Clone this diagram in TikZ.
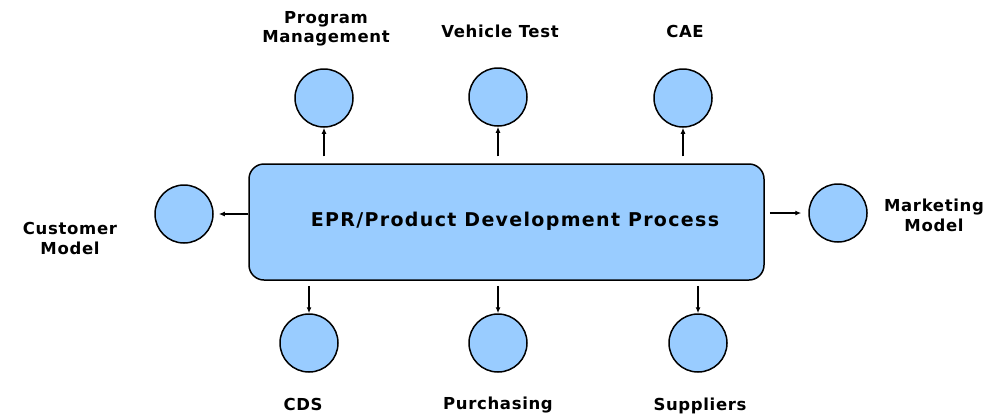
\documentclass[tikz,border=0pt]{standalone}
\usepackage{fontspec}
\usetikzlibrary{arrows.meta}
\setmainfont{DejaVu Sans}
\newfontfamily\wideflt[LetterSpace=7]{DejaVu Sans}
\newfontfamily\lblflt[LetterSpace=4]{DejaVu Sans}
\definecolor{procblue}{RGB}{153,204,255}

\begin{document}
\begin{tikzpicture}[x=1pt,y=-1pt,>={Latex[length=6pt,width=5pt]},
        unit/.style={circle,draw,line width=1.5pt,fill=procblue,minimum size=58pt,inner sep=0pt},
        lbl/.style={font=\fontsize{16.5}{19.5}\selectfont\bfseries\lblflt,align=center,inner sep=0pt},
        link/.style={->,line width=1.4pt}]
        \useasboundingbox (0,0) rectangle (1000,416);

        % main process box
        \node[draw,line width=1.5pt,fill=procblue,rounded corners=15pt,
              minimum width=515pt,minimum height=116pt] (epr) at (506.5,222) {};
        \node[anchor=base,inner sep=0pt,font=\fontsize{19}{22}\selectfont\bfseries\wideflt]
              (eprtext) at (515,226) {EPR/Product Development Process};

        % units around it
        \node[unit] (pm) at (324,98) {};
        \node[unit] (vt) at (498,97) {};
        \node[unit] (cae) at (683,98) {};
        \node[unit] (cust) at (184,214) {};
        \node[unit] (mkt) at (838,213) {};
        \node[unit] (cds) at (309,343) {};
        \node[unit] (pur) at (498,343) {};
        \node[unit] (sup) at (698,343) {};

        \node[lbl,anchor=base] (pmtext) at (326,42.7) {Program\\Management};
        \node[lbl,anchor=base] (vttext) at (500,37.5) {Vehicle Test};
        \node[lbl,anchor=base] (caetext) at (685,37) {CAE};
        \node[lbl,anchor=base] (custtext) at (70,254) {Customer\\Model};
        \node[lbl,anchor=base] (mkttext) at (934,231) {Marketing\\Model};
        \node[lbl,anchor=base] (cdstext) at (303,410) {CDS};
        \node[lbl,anchor=base] (purtext) at (498,409) {Purchasing};
        \node[lbl,anchor=base] (suptext) at (700,410) {Suppliers};

        % arrows
        \draw[link,shorten <=7pt] (pm.south |- epr.north) -- (pm.south);
        \draw[link,shorten <=7pt] (vt.south |- epr.north) -- (vt.south);
        \draw[link,shorten <=7pt] (cae.south |- epr.north) -- (cae.south);
        \draw[link,shorten >=5pt] (cust.east -| epr.west) -- (cust.east);
        \draw[link,shorten <=5pt,shorten >=7pt] (mkt.west -| epr.east) -- (mkt.west);
        \draw[link,shorten <=5pt] (cds.north |- epr.south) -- (cds.north);
        \draw[link,shorten <=5pt] (pur.north |- epr.south) -- (pur.north);
        \draw[link,shorten <=5pt] (sup.north |- epr.south) -- (sup.north);
    \end{tikzpicture}
\end{document}
